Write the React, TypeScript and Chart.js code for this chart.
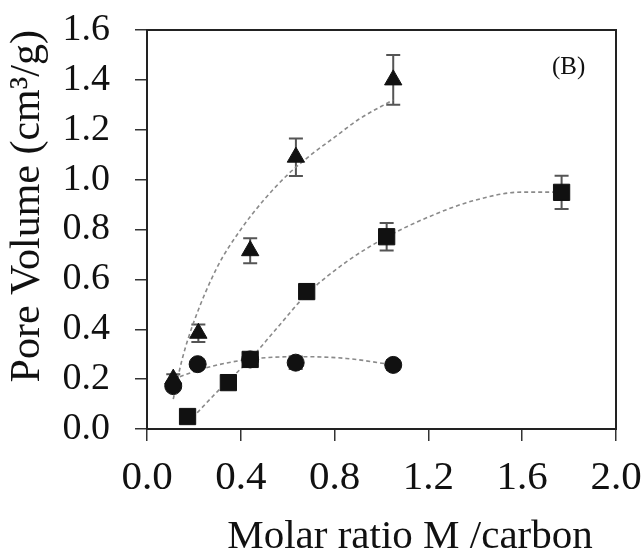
import React, { useEffect, useRef } from "react";
import { Chart, registerables } from "chart.js";
Chart.register(...registerables);

// Axis ranges / ticks
const xMin = 0;
const xMax = 2.0;
const xStep = 0.4;
const yMin = 0;
const yMax = 1.6;
const yStep = 0.2;

// Triangles
const triX = [0.112, 0.219, 0.44, 0.635, 1.05];
const triY = [0.2, 0.384, 0.715, 1.09, 1.4];
const triErr = [0.02, 0.035, 0.05, 0.075, 0.1];
// Squares
const sqX = [0.173, 0.347, 0.44, 0.681, 1.022, 1.768];
const sqY = [0.05, 0.186, 0.279, 0.551, 0.771, 0.949];
const sqErr = [0, 0, 0.01, 0.03, 0.055, 0.067];
// Circles
const ciX = [0.112, 0.216, 0.44, 0.634, 1.05];
const ciY = [0.172, 0.26, 0.279, 0.266, 0.257];
const ciErr = [0.01, 0.01, 0.015, 0.025, 0.02];

// Trend lines
const triFitX = [0.112, 0.15, 0.2, 0.3, 0.4, 0.5, 0.6, 0.7, 0.8, 0.9, 1.05];
const triFitY = [0.12, 0.28, 0.43, 0.65, 0.8, 0.92, 1.02, 1.1, 1.17, 1.24, 1.32];
const sqFitX = [0.173, 0.3, 0.44, 0.55, 0.681, 0.85, 1.022, 1.2, 1.39, 1.6, 1.768];
const sqFitY = [0.024, 0.15, 0.28, 0.4, 0.54, 0.67, 0.77, 0.85, 0.915, 0.95, 0.95];
const ciFitX = [0.112, 0.25, 0.44, 0.65, 0.85, 1.05];
const ciFitY = [0.2, 0.245, 0.28, 0.29, 0.283, 0.257];

const xTitle = "Molar ratio M /carbon";
const yTitle = "Pore Volume (cm\u00b3/g)";
const panelLabel = "(B)";

const SERIF = '"Liberation Serif", "Times New Roman", serif';

const pts = (xs: number[], ys: number[]) => xs.map((x, i) => ({ x, y: ys[i] }));

const errorSets = [
  { xs: triX, ys: triY, es: triErr },
  { xs: sqX, ys: sqY, es: sqErr },
  { xs: ciX, ys: ciY, es: ciErr },
];

const decorPlugin = {
  id: "decor",
  beforeDatasetsDraw(chart: any) {
    const { ctx, scales } = chart;
    const xs = scales.x;
    const ys = scales.y;
    ctx.save();
    ctx.strokeStyle = "#555";
    ctx.lineWidth = 2;
    for (const s of errorSets) {
      s.xs.forEach((xv: number, i: number) => {
        const e = s.es[i];
        if (!e) return;
        const px = xs.getPixelForValue(xv);
        const top = ys.getPixelForValue(s.ys[i] + e);
        const bot = ys.getPixelForValue(s.ys[i] - e);
        ctx.beginPath();
        ctx.moveTo(px, top);
        ctx.lineTo(px, bot);
        ctx.moveTo(px - 7, top);
        ctx.lineTo(px + 7, top);
        ctx.moveTo(px - 7, bot);
        ctx.lineTo(px + 7, bot);
        ctx.stroke();
      });
    }
    ctx.restore();
  },
  afterDraw(chart: any) {
    const { ctx, chartArea } = chart;
    ctx.save();
    ctx.strokeStyle = "#222";
    ctx.lineWidth = 2;
    ctx.strokeRect(chartArea.left, chartArea.top, chartArea.right - chartArea.left, chartArea.bottom - chartArea.top);
    ctx.fillStyle = "#111";
    ctx.font = `41px ${SERIF}`;
    ctx.textAlign = "center";
    ctx.textBaseline = "alphabetic";
    ctx.fillText(xTitle, chartArea.left + 263, 548);
    ctx.font = `25px ${SERIF}`;
    ctx.textAlign = "left";
    ctx.fillText(panelLabel, chartArea.right - 64, chartArea.top + 44);
    ctx.restore();
  },
};

export default function App() {
  const ref = useRef<HTMLCanvasElement>(null);
  useEffect(() => {
    document.body.style.margin = "0";
    const canvas = ref.current!;
    const lineDs = (xs: number[], ys: number[]) => ({
      type: "line" as const,
      data: pts(xs, ys),
      showLine: true,
      borderColor: "#8a8a8a",
      borderWidth: 1.6,
      borderDash: [4, 3],
      pointRadius: 0,
      fill: false,
      cubicInterpolationMode: "monotone" as const,
      order: 5,
    });
    const chart = new Chart(canvas, {
      type: "scatter",
      data: {
        datasets: [
          {
            data: pts(ciX, ciY),
            pointStyle: "circle",
            pointRadius: 8.5,
            backgroundColor: "#111",
            borderColor: "#111",
            borderWidth: 1,
            order: 0,
          },
          {
            data: pts(sqX, sqY),
            pointStyle: "rect",
            pointRadius: 11.5,
            backgroundColor: "#111",
            borderColor: "#111",
            borderWidth: 1,
            order: 1,
          },
          {
            data: pts(triX, triY),
            pointStyle: "triangle",
            pointRadius: 10,
            backgroundColor: "#111",
            borderColor: "#111",
            borderWidth: 1,
            order: 2,
          },
          lineDs(triFitX, triFitY),
          lineDs(sqFitX, sqFitY),
          lineDs(ciFitX, ciFitY),
        ] as any,
      },
      options: {
        animation: false,
        responsive: false,
        events: [],
        layout: { padding: { top: 30, right: 28, left: 0, bottom: 0 } },
        plugins: { legend: { display: false }, tooltip: { enabled: false } },
        scales: {
          x: {
            type: "linear",
            min: xMin,
            max: xMax,
            afterFit: (s: any) => {
              s.height = 123;
              s.paddingLeft = 0;
              s.paddingRight = 0;
            },
            border: { display: false },
            grid: { drawOnChartArea: false, drawTicks: true, tickLength: 12, color: "#333", lineWidth: 1.5 },
            ticks: {
              stepSize: xStep,
              autoSkip: false,
              maxRotation: 0,
              padding: 17,
              color: "#111",
              font: { family: SERIF, size: 41, lineHeight: 1 },
              callback: (v: any) => Number(v).toFixed(1),
            },
          },
          y: {
            type: "linear",
            min: yMin,
            max: yMax,
            afterFit: (s: any) => {
              s.width = 147;
              s.paddingTop = 0;
              s.paddingBottom = 0;
            },
            border: { display: false },
            grid: { drawOnChartArea: false, drawTicks: true, tickLength: 12, color: "#333", lineWidth: 1.5 },
            ticks: {
              stepSize: yStep,
              padding: 25,
              color: "#111",
              font: { family: SERIF, size: 38, lineHeight: 1 },
              callback: (v: any) => Number(v).toFixed(1),
            },
            title: {
              display: true,
              text: yTitle,
              align: "end",
              color: "#111",
              padding: { top: 7, bottom: 0 },
              font: { family: SERIF, size: 42, lineHeight: 1 },
            },
          },
        },
      },
      plugins: [decorPlugin],
    } as any);
    return () => chart.destroy();
  }, []);
  return <canvas ref={ref} width={644} height={552} style={{ display: "block", width: 644, height: 552 }} />;
}
